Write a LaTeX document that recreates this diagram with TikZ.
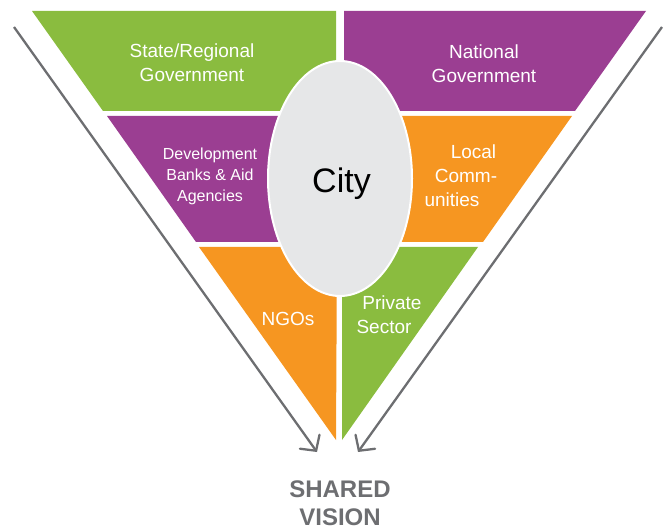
\documentclass[tikz,border=0pt]{standalone}
\usepackage{fontspec}
\setmainfont{Liberation Sans}
\usetikzlibrary{arrows.meta,shapes.geometric}
\definecolor{cgreen}{HTML}{8ABC3F}
\definecolor{cpurple}{HTML}{9B3E92}
\definecolor{corange}{HTML}{F69621}
\definecolor{cgrey}{HTML}{6D6E71}
\definecolor{cellipse}{HTML}{E6E7E8}
\tikzset{
  lbl/.style={text=white, align=center, inner sep=0pt, font=\fontsize{19}{24}\selectfont},
  lblsmall/.style={text=white, align=center, inner sep=0pt, font=\fontsize{16}{21}\selectfont},
  arr/.style={draw=cgrey, line width=2.3pt, -{Straight Barb[length=11pt,width=24pt,line cap=round]}},
  cityshape/.style={draw=white, line width=2pt, fill=cellipse, ellipse, minimum width=144pt, minimum height=235pt, inner sep=0pt, text height=29pt, text depth=0pt, font=\fontsize{34}{38}\selectfont}
}
\begin{document}
\begin{tikzpicture}[x=1pt,y=-1pt]
\useasboundingbox (0,0) rectangle (667,529);
% band 1
\fill[cgreen] (32,11) -- (336,11) -- (336,111) -- (103,111) -- cycle;
\fill[cpurple] (344,11) -- (646,11) -- (575,111) -- (344,111) -- cycle;
% band 2
\fill[cpurple] (107,116) -- (336,116) -- (336,242) -- (196,242) -- cycle;
\fill[corange] (344,116) -- (572,116) -- (483,242) -- (344,242) -- cycle;
% band 3
\fill[corange] (199,247) -- (337,247) -- (336,440) -- cycle;
\fill[cgreen] (342,247) -- (478,247) -- (342,440) -- cycle;
% ellipse
\node[cityshape] (city) at (340,178.5) {\hspace*{3pt}City};
% labels
\node[lbl] (state) at (192,63) {State/Regional\\Government};
\node[lbl] (national) at (484,64) {National\\Government};
\node[lblsmall] (banks) at (210,176) {Development\\Banks \& Aid\\Agencies};
\node[lbl] (local) at (466,176) {\hspace*{15pt}Local\\Comm-\\unities\hspace*{28pt}};
\node[lbl] (ngos) at (288,319) {NGOs};
\node[lbl] (private) at (388,315) {\hspace*{8pt}Private\\Sector\hspace*{8pt}};
% arrows
\coordinate (ls) at (14,27);
\coordinate (le) at (317,452);
\coordinate (rs) at (662,27);
\coordinate (re) at (358,452);
\draw[arr] (ls) -- (le);
\draw[arr] (rs) -- (re);
% shared vision
\node[inner sep=0pt, align=center, text=cgrey, font=\bfseries\fontsize{24}{28}\selectfont] (vision) at (340,503) {SHARED\\VISION};
\end{tikzpicture}
\end{document}
